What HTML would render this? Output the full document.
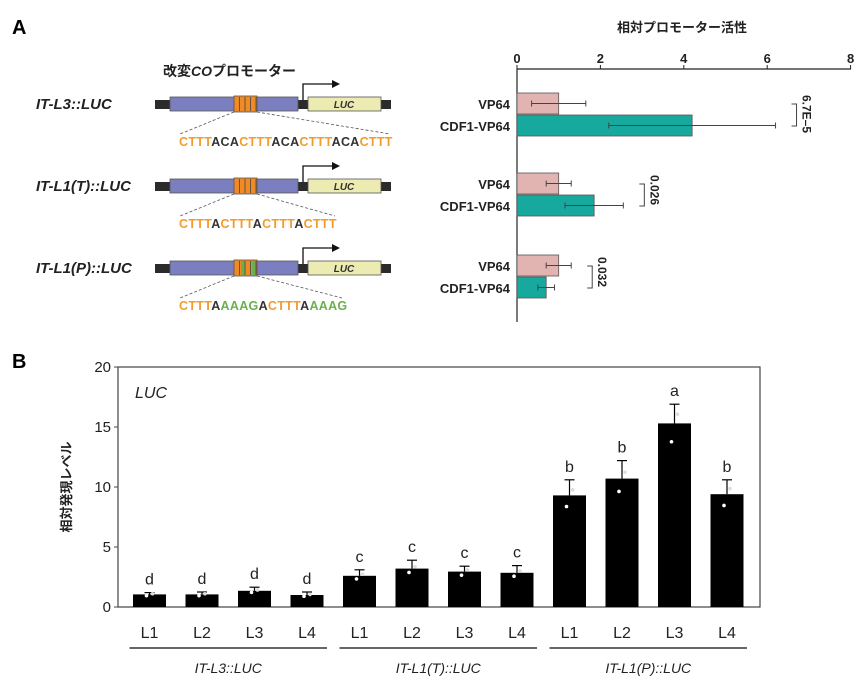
<!DOCTYPE html>
<html><head><meta charset="utf-8"><style>
body{margin:0;background:#fff;}
svg text{font-family:"Liberation Sans","Noto Sans CJK JP",sans-serif;}
</style></head><body>
<svg id="fig" width="855" height="693" xmlns="http://www.w3.org/2000/svg">
<text x="12" y="34" font-size="20" font-weight="bold">A</text>
<text x="12" y="368" font-size="20" font-weight="bold">B</text>
<text x="163" y="76" font-size="14" font-weight="bold" fill="#222">改変<tspan font-style="italic">CO</tspan>プロモーター</text>
<g id="constructs"></g>
<g id="chartA"></g>
<g id="chartB"></g>
</svg>
<script>
const NS="http://www.w3.org/2000/svg";
function mk(parent,tag,attrs,text){const e=document.createElementNS(NS,tag);for(const k in attrs)e.setAttribute(k,attrs[k]);if(text!==undefined)e.textContent=text;parent.appendChild(e);return e;}

// ---- Constructs ----
const conNames=["IT-L3::LUC","IT-L1(T)::LUC","IT-L1(P)::LUC"];
const conSeq=[
 [["CTTT","o"],["ACA","k"],["CTTT","o"],["ACA","k"],["CTTT","o"],["ACA","k"],["CTTT","o"]],
 [["CTTT","o"],["A","k"],["CTTT","o"],["A","k"],["CTTT","o"],["A","k"],["CTTT","o"]],
 [["CTTT","o"],["A","k"],["AAAG","g"],["A","k"],["CTTT","o"],["A","k"],["AAAG","g"]]];
const conY=[104,186,268];
const colMap={o:"#f39c2a",k:"#333",g:"#6ab04c"};
const cg=document.getElementById("constructs");
conNames.forEach((n,i)=>{
 const y=conY[i];
 const g=mk(cg,"g",{});
 
 
 mk(g,"text",{x:36,y:y+5,"font-size":15,"font-weight":"bold","font-style":"italic",fill:"#222"},n);
 mk(g,"rect",{x:155,y:y-4,width:236,height:9,fill:"#2b2b2b"});
 mk(g,"rect",{x:170,y:y-7,width:128,height:14,fill:"#7b7fbf",stroke:"#555","stroke-width":0.8});
 mk(g,"rect",{x:308,y:y-7,width:73,height:14,fill:"#ecebb2",stroke:"#555","stroke-width":0.8});
 mk(g,"text",{x:344,y:y+4,"font-size":10,"font-weight":"bold","font-style":"italic","text-anchor":"middle",fill:"#333"},"LUC");
 mk(g,"rect",{x:234,y:y-8,width:23,height:16,fill:"#f08a24",stroke:"#555","stroke-width":0.8});
 for(let k=0;k<4;k++){const c=(i==2&&(k==1||k==3))?"#6ab04c":"#f08a24";
  mk(g,"rect",{x:235.5+k*5.5,y:y-7,width:3.5,height:14,fill:c});
  mk(g,"line",{x1:235+k*5.5+4.5,y1:y-7,x2:235+k*5.5+4.5,y2:y+7,stroke:"#444","stroke-width":0.8});}
 mk(g,"path",{d:`M303 ${y-4} V${y-20} H333`,fill:"none",stroke:"#111","stroke-width":1.3});
 mk(g,"path",{d:`M340 ${y-20} l-8 -4 v8 z`,fill:"#111"});
 const t=mk(g,"text",{x:179,y:y+42,"font-size":12.5,"font-weight":"bold","letter-spacing":0.3});
 conSeq[i].forEach(s=>mk(t,"tspan",{fill:colMap[s[1]]},s[0]));
 const endX=[390,335,342][i];
 mk(g,"line",{x1:234,y1:y+8,x2:180,y2:y+30,stroke:"#555","stroke-width":0.8,"stroke-dasharray":"3,2"});
 mk(g,"line",{x1:257,y1:y+8,x2:endX,y2:y+30,stroke:"#555","stroke-width":0.8,"stroke-dasharray":"3,2"});
});

// ---- Chart A ----
const aLabels=["VP64","CDF1-VP64"];
const aVP=[1.0,1.0,1.0];
const aCDF=[4.2,1.85,0.7];
const aVPerr=[0.65,0.3,0.3];
const aCDFerr=[2.0,0.7,0.2];
const aP=["6.7E\u20135","0.026","0.032"];
const aTicks=[0,2,4,6,8];
const ax=v=>517+v*41.7;
const aGroupY=[93,173,255];
const A=document.getElementById("chartA");
mk(A,"text",{x:682,y:32,"font-size":13,"font-weight":"bold","text-anchor":"middle",fill:"#222"},"相対プロモーター活性");
mk(A,"line",{x1:517,y1:69,x2:851,y2:69,stroke:"#222","stroke-width":1.2});
mk(A,"line",{x1:517,y1:69,x2:517,y2:322,stroke:"#222","stroke-width":1.2});
aTicks.forEach(t=>{mk(A,"line",{x1:ax(t),y1:65,x2:ax(t),y2:69,stroke:"#222"});
 const tx=mk(A,"text",{x:ax(t),y:63,"font-size":13,"font-weight":"bold","text-anchor":"middle",fill:"#222"},t);
 
 });
aGroupY.forEach((gy,i)=>{
 [[aVP[i],aVPerr[i],"#e1b4b2",0],[aCDF[i],aCDFerr[i],"#17a99d",1]].forEach(([v,e,c,j])=>{
  const y=gy+j*22;
  const r=mk(A,"rect",{x:517,y:y,width:ax(v)-517,height:21,fill:c,stroke:"#555","stroke-width":0.8});
  
  
  const cy=y+10.5;
  mk(A,"line",{x1:ax(v-e),y1:cy,x2:ax(v+e),y2:cy,stroke:"#444","stroke-width":1});
  mk(A,"line",{x1:ax(v-e),y1:cy-3,x2:ax(v-e),y2:cy+3,stroke:"#444"});
  mk(A,"line",{x1:ax(v+e),y1:cy-3,x2:ax(v+e),y2:cy+3,stroke:"#444"});
  mk(A,"text",{x:510,y:y+16,"font-size":13,"font-weight":"bold","text-anchor":"end",fill:"#222"},aLabels[j]);
 });
 const bx=ax(Math.max(aVP[i]+aVPerr[i],aCDF[i]+aCDFerr[i]))+16;
 mk(A,"path",{d:`M${bx} ${gy+11} h5 V${gy+33} h-5`,fill:"none",stroke:"#444","stroke-width":1});
 const pt=mk(A,"text",{x:0,y:0,"font-size":12,"font-weight":"bold",fill:"#222",transform:`translate(${bx+11},${gy+2}) rotate(90)`},aP[i]);
 
 
});

// ---- Chart B ----
const bCats=["L1","L2","L3","L4","L1","L2","L3","L4","L1","L2","L3","L4"];
const bVals=[1.05,1.05,1.35,1.0,2.6,3.2,2.95,2.85,9.3,10.7,15.3,9.4];
const bErr=[0.15,0.2,0.3,0.25,0.5,0.7,0.45,0.6,1.3,1.5,1.6,1.2];
const bLetters=["d","d","d","d","c","c","c","c","b","b","a","b"];
const bGroups=["IT-L3::LUC","IT-L1(T)::LUC","IT-L1(P)::LUC"];
const bTicks=[0,5,10,15,20];
const by=v=>607-v*12;
const bx=i=>149.5+i*52.5;
const B=document.getElementById("chartB");
mk(B,"rect",{x:118,y:367,width:642,height:240,fill:"none",stroke:"#444","stroke-width":1.2});
bTicks.forEach(t=>{mk(B,"line",{x1:114,y1:by(t),x2:118,y2:by(t),stroke:"#444"});
 const tx=mk(B,"text",{x:111,y:by(t)+5,"font-size":15,"text-anchor":"end",fill:"#222"},t);
 
 });
const yl=mk(B,"text",{x:0,y:0,"font-size":13,"font-weight":"bold",fill:"#222","text-anchor":"middle",transform:"translate(71,487) rotate(-90)"},"相対発現レベル");


mk(B,"text",{x:135,y:398,"font-size":16,"font-style":"italic",fill:"#222"},"LUC");
bVals.forEach((v,i)=>{
 const x=bx(i);
 const r=mk(B,"rect",{x:x-16.5,y:by(v),width:33,height:by(0)-by(v),fill:"#000"});
 
 
 mk(B,"line",{x1:x,y1:by(v),x2:x,y2:by(v+bErr[i]),stroke:"#000","stroke-width":1.2});
 mk(B,"line",{x1:x-5,y1:by(v+bErr[i]),x2:x+5,y2:by(v+bErr[i]),stroke:"#000","stroke-width":1.2});
 mk(B,"circle",{cx:x-3,cy:by(v*0.9),r:1.8,fill:"#fff"});
 mk(B,"circle",{cx:x+3,cy:by(v*1.05),r:1.8,fill:"#ddd"});
 mk(B,"text",{x:x,y:by(v+bErr[i])-8,"font-size":16,"text-anchor":"middle",fill:"#222"},bLetters[i]);
 const c=mk(B,"text",{x:x,y:638,"font-size":16,"text-anchor":"middle",fill:"#222"},bCats[i]);
 
 
});
bGroups.forEach((g,k)=>{
 const x1=bx(k*4)-20,x2=bx(k*4+3)+20;
 mk(B,"line",{x1:x1,y1:648,x2:x2,y2:648,stroke:"#333","stroke-width":1.5});
 const t=mk(B,"text",{x:(x1+x2)/2,y:673,"font-size":14,"font-style":"italic","text-anchor":"middle",fill:"#222"},g);
 
 
});
</script>
</body></html>
